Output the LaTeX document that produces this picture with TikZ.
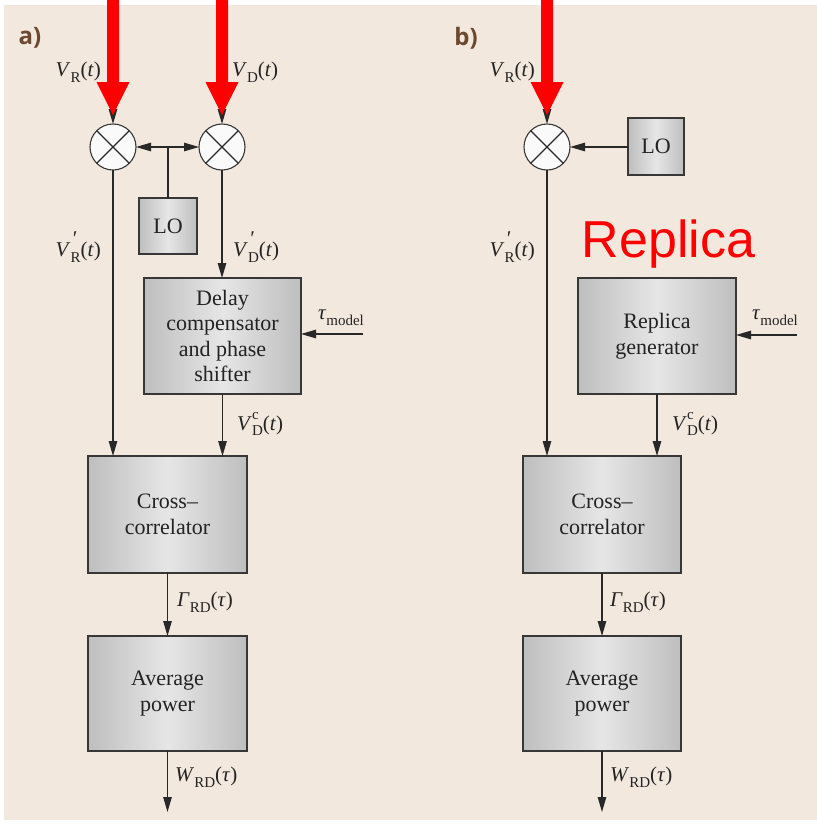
\documentclass[tikz,border=0pt]{standalone}
\usepackage{fontspec}
\setmainfont{Liberation Serif}
\newfontfamily\panelfont{Open Sans}
\newfontfamily\redsans{Liberation Sans}
\usetikzlibrary{arrows.meta,calc}
\definecolor{bg}{RGB}{242,232,222}
\definecolor{ln}{RGB}{40,40,40}
\definecolor{boxedge}{RGB}{55,55,55}
\definecolor{gdark}{RGB}{190,190,190}
\definecolor{glight}{RGB}{230,230,230}
\definecolor{brownlbl}{RGB}{108,72,46}
\definecolor{txt}{RGB}{35,35,35}
\newcommand{\lsub}[1]{\raisebox{-0.28em}{\fontsize{15}{15}\selectfont #1}}
\newcommand{\lsupsub}[2]{\makebox[0pt][l]{\raisebox{0.52em}{\fontsize{15}{15}\selectfont #1}}\lsub{#2}}
\newcommand{\lprime}{\hspace{1pt}\fontsize{21}{21}\selectfont\textit{′}}
\tikzset{
  blk/.style={draw=boxedge, line width=1.1pt, left color=gdark, right color=gdark, middle color=glight,
    inner sep=0pt, outer sep=0pt, align=center, text=txt, font=\fontsize{22}{25.5}\selectfont},
  mixer/.style={circle, draw=boxedge, line width=1.1pt, fill=white!96!gray, minimum size=46pt, inner sep=0pt, outer sep=0pt},
  arr/.style={draw=ln, line width=1.1pt, -{Triangle[length=15pt,width=8.5pt]}},
  wire/.style={draw=ln, line width=1.1pt},
  lbl/.style={inner sep=0pt, text=txt, font=\fontsize{21}{24}\selectfont},
  panel/.style={inner sep=0pt, text=brownlbl, font=\panelfont\bfseries\fontsize{24}{26}\selectfont},
  redarr/.pic={\fill[red] (-6,-124) -- (-6,-42) -- (-16.5,-42) -- (0,-9) -- (16.5,-42) -- (6,-42) -- (6,-124) -- cycle;}
}
\newcommand{\xlines}[1]{\draw[wire] (#1.north east) -- (#1.south west) (#1.north west) -- (#1.south east);}
\begin{document}
\begin{tikzpicture}[x=1pt,y=-1pt]
\useasboundingbox (0,0) rectangle (817,828);
\fill[white] (0,0) rectangle (817,828);
\fill[bg] (4,5) rectangle (817,820);

% ---------- panel a ----------
\node[panel] (pa) at (30,38) {a)};
\node[mixer] (mRa) at (113,147) {};
\node[mixer] (mDa) at (222,147) {};
\xlines{mRa}\xlines{mDa}
\node[blk, minimum width=58pt, minimum height=56pt] (LOa) at (168,226) {LO};
\node[blk, minimum width=157pt, minimum height=116pt] (dly) at (222.5,336) {Delay\\compensator\\and phase\\shifter};
\node[blk, minimum width=159pt, minimum height=117pt] (cca) at (167.5,514.5) {Cross–\\correlator};
\node[blk, minimum width=159pt, minimum height=115pt] (apa) at (167.5,693.5) {Average\\power};

\coordinate (ja) at (168,147);
\coordinate (inRa) at (113,40);
\coordinate (inDa) at (222,40);
\coordinate (tauA) at (363,334);
\coordinate (outA) at (167.5,812);

\draw[wire] (LOa.north) -- (ja);
\draw[arr] (ja) -- (mRa.east);
\draw[arr] (ja) -- (mDa.west);
\draw[arr] (inRa) -- (mRa.north);
\draw[arr] (inDa) -- (mDa.north);
\draw[arr] (mDa.south) -- (mDa.south |- dly.north);
\draw[arr] (mRa.south) -- (mRa.south |- cca.north);
\draw[arr] (dly.south) -- (dly.south |- cca.north);
\draw[arr] (tauA) -- (tauA -| dly.east);
\draw[arr] (cca.south) -- (apa.north);
\draw[arr] (apa.south) -- (outA);

\pic at (mRa.north) {redarr};
\pic at (mDa.north) {redarr};

\node[lbl, anchor=east] (lVRa) at (101,72) {\textit{V}\lsub{R}(\textit{t})};
\node[lbl, anchor=west] (lVDa) at (232,72) {\textit{V}\lsub{D}(\textit{t})};
\node[lbl, anchor=east] (lVpRa) at (101,247) {\textit{V}\lsupsub{\lprime}{R}(\textit{t})};
\node[lbl, anchor=west] (lVpDa) at (233,247) {\textit{V}\lsupsub{\lprime}{D}(\textit{t})};
\node[lbl, anchor=west] (ltauA) at (318,318) {\textit{τ}\lsub{model}};
\node[lbl, anchor=west] (lVcDa) at (237,424) {\textit{V}\lsupsub{c}{D}(\textit{t})};
\node[lbl, anchor=west] (lGa) at (177,602) {\textit{Γ}\lsub{RD}(\textit{τ})};
\node[lbl, anchor=west] (lWa) at (175,777) {\textit{W}\lsub{RD}(\textit{τ})};

% ---------- panel b ----------
\node[panel] (pb) at (466,38) {b)};
\node[mixer] (mRb) at (547,147) {};
\xlines{mRb}
\node[blk, minimum width=56pt, minimum height=57pt] (LOb) at (656,146.5) {LO};
\node[blk, minimum width=158pt, minimum height=116pt] (rep) at (657,336) {Replica\\generator};
\node[blk, minimum width=158pt, minimum height=117pt] (ccb) at (602,514.5) {Cross–\\correlator};
\node[blk, minimum width=158pt, minimum height=115pt] (apb) at (602,693.5) {Average\\power};

\coordinate (inRb) at (547,40);
\coordinate (tauB) at (797,335);
\coordinate (outB) at (602,812);

\draw[arr] (LOb.west |- mRb) -- (mRb.east);
\draw[arr] (inRb) -- (mRb.north);
\draw[arr] (mRb.south) -- (mRb.south |- ccb.north);
\draw[arr] (rep.south) -- (rep.south |- ccb.north);
\draw[arr] (tauB) -- (tauB -| rep.east);
\draw[arr] (ccb.south) -- (apb.north);
\draw[arr] (apb.south) -- (outB);

\pic at (mRb.north) {redarr};

\node[lbl, anchor=east] (lVRb) at (535,72) {\textit{V}\lsub{R}(\textit{t})};
\node[lbl, anchor=east] (lVpRb) at (535,247) {\textit{V}\lsupsub{\lprime}{R}(\textit{t})};
\node[lbl, anchor=west] (ltauB) at (752,318) {\textit{τ}\lsub{model}};
\node[lbl, anchor=west] (lVcDb) at (672,424) {\textit{V}\lsupsub{c}{D}(\textit{t})};
\node[lbl, anchor=west] (lGb) at (610,602) {\textit{Γ}\lsub{RD}(\textit{τ})};
\node[lbl, anchor=west] (lWb) at (610,777) {\textit{W}\lsub{RD}(\textit{τ})};

\node[inner sep=0pt, anchor=base, text=red, font=\redsans\fontsize{52}{52}\selectfont] (repl) at (668.5,257) {Replica};
\end{tikzpicture}
\end{document}
